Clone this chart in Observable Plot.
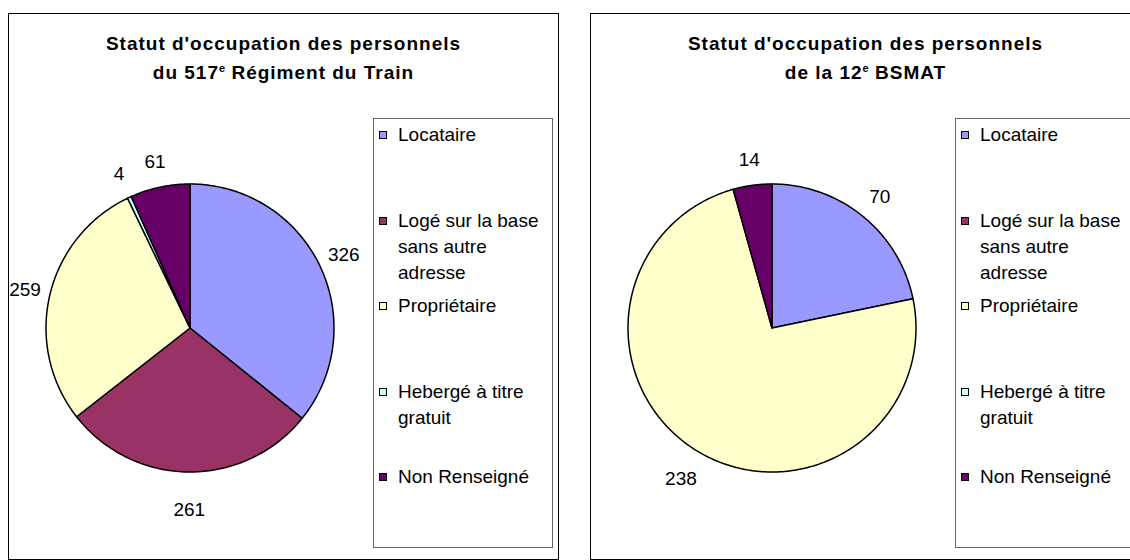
<!DOCTYPE html>
<html><head><meta charset="utf-8">
<script src="https://cdn.jsdelivr.net/npm/d3@7"></script>
<script src="https://cdn.jsdelivr.net/npm/@observablehq/plot@0.6"></script>
<style>
html,body{margin:0;padding:0;width:1130px;height:560px;overflow:hidden;background:#fff;font-family:"Liberation Sans",Arial,sans-serif;color:#000}
.panel{position:absolute;top:13px;width:551px;height:547px;border:1px solid #000;box-sizing:border-box;background:#fff}
.title{position:absolute;left:0;width:100%;top:15px;text-align:center;font-weight:bold;font-size:19px;line-height:29px;letter-spacing:1px;white-space:nowrap}
.title sup{font-size:11px;line-height:0;vertical-align:7px;letter-spacing:0}
.legend{position:absolute;left:364px;top:104px;width:180px;height:430px;border:1px solid #666;box-sizing:border-box;display:flex;flex-direction:column;background:#fff}
.item{flex:1;position:relative;font-size:19px;line-height:26px;padding-left:24px;padding-top:3px;white-space:nowrap}
.sw{position:absolute;left:5px;top:12px;width:6px;height:6px;border:1px solid #000}
.chart{position:absolute;left:1px;top:134px}
</style></head>
<body>
<div class="panel" id="p1" style="left:8px"></div>
<div class="panel" id="p2" style="left:590px"></div>
<script>
const categories = ["Locataire", "Logé sur la base sans autre adresse", "Propriétaire", "Hebergé à titre gratuit", "Non Renseigné"];
const legendLines = [["Locataire"], ["Logé sur la base", "sans autre", "adresse"], ["Propriétaire"], ["Hebergé à titre", "gratuit"], ["Non Renseigné"]];
const colors = ["#9999FF", "#993366", "#FFFFCC", "#CCFFFF", "#660066"];
const values517 = [326, 261, 259, 4, 61];
const valuesBsmat = [70, 0, 238, 0, 14];
const title517 = ["Statut d'occupation des personnels", "du 517<sup>e</sup> Régiment du Train"];
const titleBsmat = ["Statut d'occupation des personnels", "de la 12<sup>e</sup> BSMAT"];

function pieChart(values) {
  const total = d3.sum(values);
  let acc = 0;
  const slices = [];
  values.forEach((v, i) => {
    const a0 = acc / total * 2 * Math.PI;
    acc += v;
    const a1 = acc / total * 2 * Math.PI;
    if (v > 0) slices.push({cat: categories[i], value: v, a0, a1});
  });
  const pts = slices.flatMap(s => {
    const n = Math.max(2, Math.ceil((s.a1 - s.a0) / (Math.PI / 180)) + 1);
    return d3.range(n).map(k => {
      const a = s.a0 + (s.a1 - s.a0) * k / (n - 1);
      return {cat: s.cat, x: Math.sin(a), y: Math.cos(a), cx: 0, cy: 0};
    });
  });
  const labels = slices.map(s => {
    const m = (s.a0 + s.a1) / 2;
    const d = 1.18 + 0.083 * Math.pow(Math.max(0, -Math.cos(m)), 4);
    return {text: String(s.value), x: Math.sin(m) * d, y: Math.cos(m) * d};
  });
  return Plot.plot({
    width: 360, height: 360, margin: 0,
    x: {domain: [-1.25, 1.25], axis: null},
    y: {domain: [-1.25, 1.25], axis: null},
    color: {domain: categories, range: colors},
    style: {overflow: "visible", background: "transparent", fontFamily: "Liberation Sans, Arial, sans-serif"},
    marks: [
      Plot.area(pts, {x1: "x", y1: "y", x2: "cx", y2: "cy", z: "cat", fill: "cat", stroke: "#000", strokeWidth: 1.5, strokeLinejoin: "round"}),
      Plot.text(labels, {x: "x", y: "y", text: "text", fontSize: 19, fill: "#000", lineAnchor: "middle", textAnchor: "middle"})
    ]
  });
}

function buildPanel(id, titleLines, values) {
  const panel = document.getElementById(id);
  const t = document.createElement("div");
  t.className = "title";
  t.innerHTML = titleLines.join("<br>");
  panel.appendChild(t);
  const c = document.createElement("div");
  c.className = "chart";
  c.appendChild(pieChart(values));
  panel.appendChild(c);
  const lg = document.createElement("div");
  lg.className = "legend";
  categories.forEach((cat, i) => {
    const it = document.createElement("div");
    it.className = "item";
    const sw = document.createElement("span");
    sw.className = "sw";
    sw.style.background = colors[i];
    it.appendChild(sw);
    it.appendChild(document.createRange().createContextualFragment(legendLines[i].join("<br>")));
    lg.appendChild(it);
  });
  panel.appendChild(lg);
}
buildPanel("p1", title517, values517);
buildPanel("p2", titleBsmat, valuesBsmat);
</script>
</body></html>
